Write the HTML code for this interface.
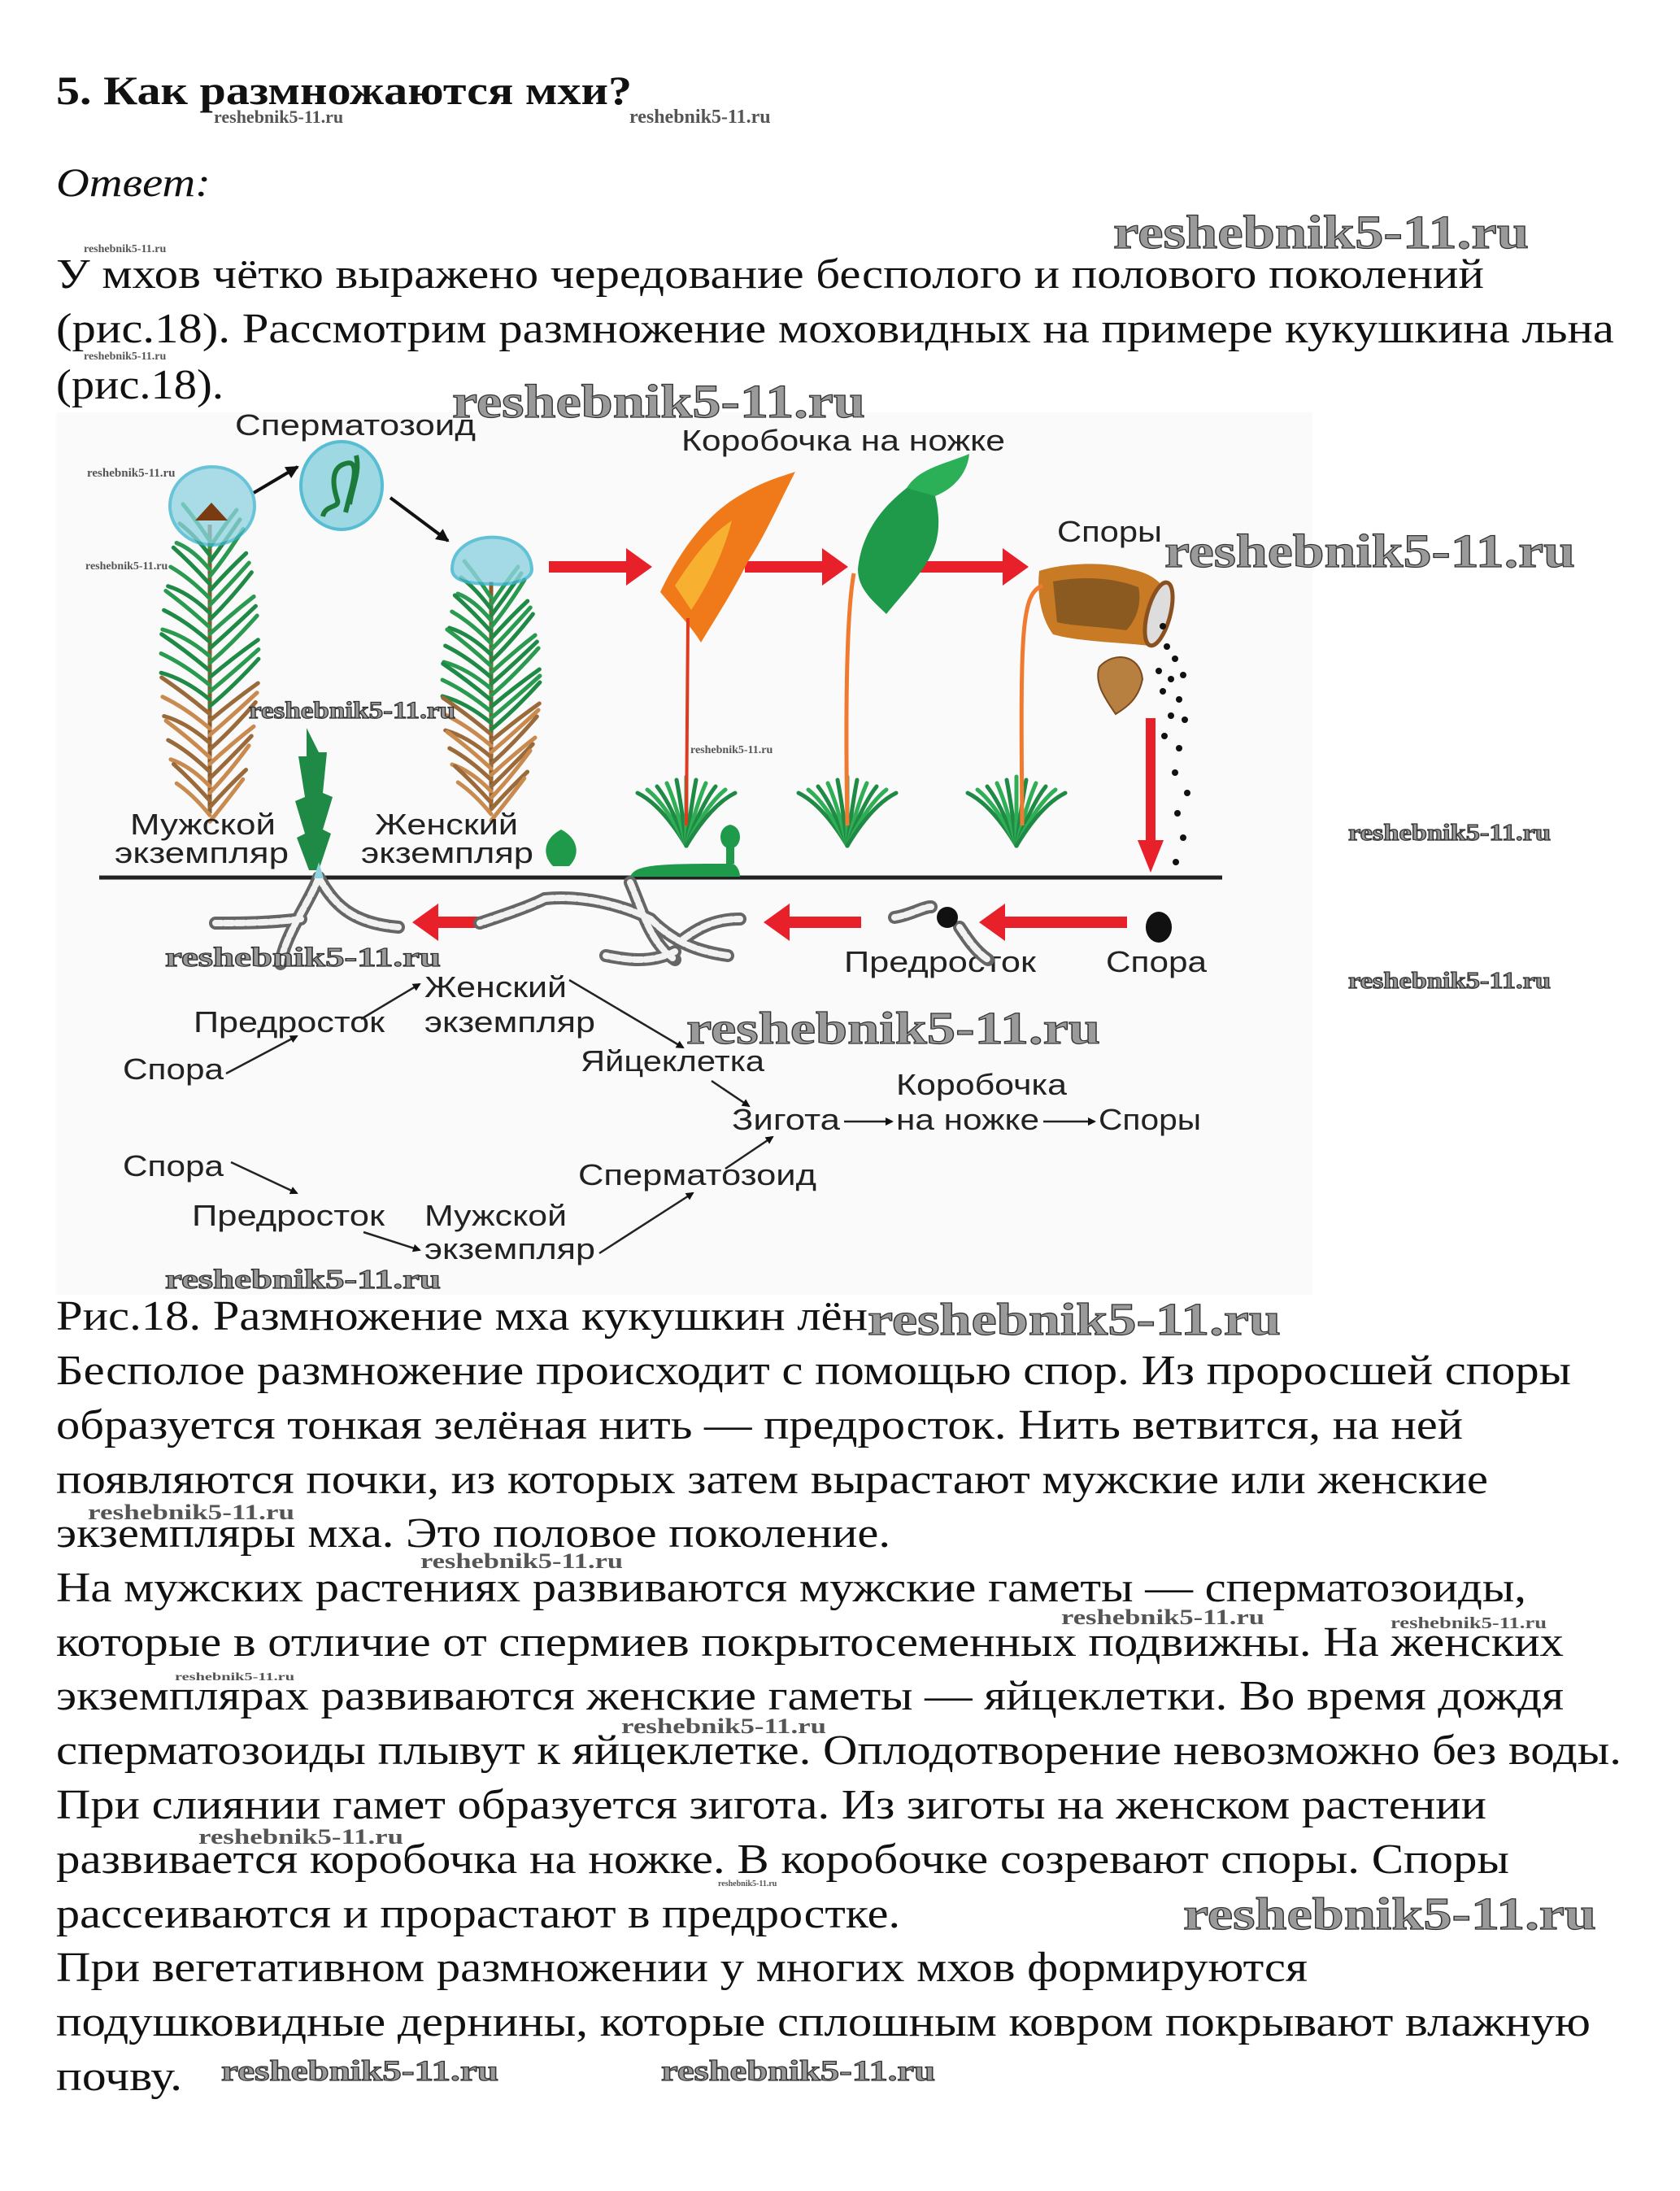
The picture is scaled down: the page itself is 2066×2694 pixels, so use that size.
<!DOCTYPE html>
<html><head><meta charset="utf-8">
<style>
html,body{margin:0;padding:0;background:#fff;}
svg{display:block;}
.b{font-family:"Liberation Serif",serif;font-size:52px;fill:#111;}
.a{font-family:"Liberation Sans",sans-serif;font-size:36px;fill:#222;}
.w{font-family:"Liberation Serif",serif;font-weight:bold;fill:#9a9a9a;stroke:#333;stroke-width:1.2;}
.ws{font-family:"Liberation Serif",serif;font-weight:bold;fill:#555;}
</style></head>
<body>
<svg id="s" width="2066" height="2694" viewBox="0 0 2066 2694" xmlns="http://www.w3.org/2000/svg">
<defs>
<marker id="ah" markerWidth="10" markerHeight="10" refX="8" refY="5" orient="auto" markerUnits="userSpaceOnUse"><path d="M0,0 L10,5 L0,10 Z" fill="#111"/></marker>
<marker id="ah2" markerWidth="16" markerHeight="16" refX="14" refY="8" orient="auto" markerUnits="userSpaceOnUse"><path d="M0,0 L16,8 L0,16 Z" fill="#111"/></marker>
</defs>
<rect x="69" y="507" width="1545" height="1085" fill="#fafafa"/>

<text x="69" y="128" font-family="Liberation Serif" font-weight="bold" font-size="50" fill="#111" textLength="708" lengthAdjust="spacingAndGlyphs">5. Как размножаются мхи?</text>
<text x="69" y="241" font-family="Liberation Serif" font-style="italic" font-size="50" fill="#111" textLength="190" lengthAdjust="spacingAndGlyphs">Ответ:</text>
<text class="b" x="69" y="354" textLength="1756" lengthAdjust="spacingAndGlyphs">У мхов чётко выражено чередование бесполого и полового поколений</text>
<text class="b" x="69" y="421" textLength="1916" lengthAdjust="spacingAndGlyphs">(рис.18). Рассмотрим размножение моховидных на примере кукушкина льна</text>
<text class="b" x="69" y="490" textLength="206" lengthAdjust="spacingAndGlyphs">(рис.18).</text>

<g id="plants"></g>

<text class="a" x="289" y="535" textLength="296" lengthAdjust="spacingAndGlyphs">Сперматозоид</text>
<text class="a" x="838" y="554" textLength="398" lengthAdjust="spacingAndGlyphs">Коробочка на ножке</text>
<text class="a" x="1300" y="666" textLength="129" lengthAdjust="spacingAndGlyphs">Споры</text>
<text class="a" x="160" y="1026" textLength="179" lengthAdjust="spacingAndGlyphs">Мужской</text>
<text class="a" x="141" y="1061" textLength="214" lengthAdjust="spacingAndGlyphs">экземпляр</text>
<text class="a" x="461" y="1026" textLength="176" lengthAdjust="spacingAndGlyphs">Женский</text>
<text class="a" x="444" y="1061" textLength="212" lengthAdjust="spacingAndGlyphs">экземпляр</text>
<text class="a" x="1038" y="1195" textLength="236" lengthAdjust="spacingAndGlyphs">Предросток</text>
<text class="a" x="1360" y="1195" textLength="124" lengthAdjust="spacingAndGlyphs">Спора</text>

<text class="a" x="522" y="1226" textLength="175" lengthAdjust="spacingAndGlyphs">Женский</text>
<text class="a" x="522" y="1269" textLength="210" lengthAdjust="spacingAndGlyphs">экземпляр</text>
<text class="a" x="238" y="1269" textLength="235" lengthAdjust="spacingAndGlyphs">Предросток</text>
<text class="a" x="151" y="1327" textLength="124" lengthAdjust="spacingAndGlyphs">Спора</text>
<text class="a" x="714" y="1317" textLength="226" lengthAdjust="spacingAndGlyphs">Яйцеклетка</text>
<text class="a" x="1102" y="1346" textLength="210" lengthAdjust="spacingAndGlyphs">Коробочка</text>
<text class="a" x="900" y="1389" textLength="133" lengthAdjust="spacingAndGlyphs">Зигота</text>
<text class="a" x="1102" y="1389" textLength="176" lengthAdjust="spacingAndGlyphs">на ножке</text>
<text class="a" x="1351" y="1389" textLength="126" lengthAdjust="spacingAndGlyphs">Споры</text>
<text class="a" x="151" y="1446" textLength="124" lengthAdjust="spacingAndGlyphs">Спора</text>
<text class="a" x="711" y="1457" textLength="293" lengthAdjust="spacingAndGlyphs">Сперматозоид</text>
<text class="a" x="236" y="1507" textLength="237" lengthAdjust="spacingAndGlyphs">Предросток</text>
<text class="a" x="522" y="1507" textLength="175" lengthAdjust="spacingAndGlyphs">Мужской</text>
<text class="a" x="522" y="1548" textLength="210" lengthAdjust="spacingAndGlyphs">экземпляр</text>

<g stroke="#222" stroke-width="2.5" fill="none" marker-end="url(#ah)">
<line x1="278" y1="1320" x2="365" y2="1274"/>
<line x1="444" y1="1253" x2="516" y2="1210"/>
<line x1="700" y1="1205" x2="840" y2="1288"/>
<line x1="875" y1="1329" x2="921" y2="1360"/>
<line x1="1038" y1="1379" x2="1097" y2="1379"/>
<line x1="1283" y1="1379" x2="1346" y2="1379"/>
<line x1="284" y1="1429" x2="365" y2="1467"/>
<line x1="447" y1="1515" x2="516" y2="1537"/>
<line x1="737" y1="1541" x2="852" y2="1467"/>
<line x1="892" y1="1437" x2="950" y2="1398"/>
</g>

<line x1="122" y1="1079" x2="1503" y2="1079" stroke="#222" stroke-width="5"/>

<g fill="#e8202a">
<path d="M675,690 h95 v-16 l32,23 l-32,23 v-16 h-95z"/>
<path d="M916,690 h95 v-16 l32,23 l-32,23 v-16 h-95z"/>
<path d="M1128,690 h105 v-16 l32,23 l-32,23 v-16 h-105z"/>
<path d="M1409,883 h12 v150 h10 l-16,40 l-16,-40 h10z"/>
<path d="M599,1127 h-60 v-16 l-32,23 l32,23 v-16 h60z"/>
<path d="M1059,1127 h-88 v-16 l-32,23 l32,23 v-16 h88z"/>
<path d="M1386,1127 h-150 v-16 l-32,23 l32,23 v-16 h150z"/>
</g>
<g stroke="#111" stroke-width="4" marker-end="url(#ah2)">
<line x1="312" y1="606" x2="366" y2="574"/>
<line x1="480" y1="612" x2="551" y2="665"/>
</g>

<ellipse cx="261" cy="622" rx="52" ry="48" fill="#8fd3e0" opacity="0.75" stroke="#3bb3cc" stroke-width="4"/>
<path d="M240,640 l20,-22 l20,22 z" fill="#7a3b12"/>
<ellipse cx="420" cy="597" rx="50" ry="54" fill="#8fd3e0" opacity="0.85" stroke="#3bb3cc" stroke-width="4"/>
<path d="M425,570 c-20,5 -15,30 -10,45 c3,10 -15,5 -18,20 M425,570 c15,-5 12,15 5,40 l-5,20 M438,560 c5,20 -5,40 -8,60" stroke="#1c7a3a" stroke-width="6" fill="none"/>
<path d="M556,700 c0,-50 95,-55 98,0 c0,15 -30,20 -50,18 c-20,0 -48,-2 -48,-18z" fill="#8fd3e0" opacity="0.8" stroke="#3bb3cc" stroke-width="4"/>

<path d="M812,728 C830,690 860,640 905,612 C940,590 965,585 978,580 C960,615 940,660 920,690 C900,730 880,760 862,790 C850,770 830,750 812,728z" fill="#f07a1a"/>
<path d="M830,720 C850,690 870,660 900,640 C890,680 870,720 850,750z" fill="#f8b030"/>
<line x1="846" y1="760" x2="844" y2="1015" stroke="#e03a20" stroke-width="4"/>
<path d="M1055,700 C1060,650 1090,620 1115,600 L1140,585 C1150,600 1160,640 1150,670 C1140,700 1110,730 1090,755 C1075,740 1055,725 1055,700z" fill="#1f9a4a"/>
<path d="M1115,600 C1130,575 1165,570 1192,558 C1190,580 1175,600 1150,610z" fill="#2bb058"/>
<path d="M1050,705 C1040,760 1040,900 1042,1015" stroke="#f07a30" stroke-width="5" fill="none"/>
<path d="M1278,702 C1310,692 1360,690 1390,700 C1420,705 1430,720 1436,730 C1440,760 1430,785 1420,795 C1390,790 1330,790 1295,780 C1280,760 1275,730 1278,702z" fill="#c97a25"/>
<path d="M1295,715 C1330,708 1370,710 1400,722 C1405,745 1395,765 1385,775 C1350,770 1320,770 1300,765z" fill="#8a5a20"/>
<ellipse cx="1425" cy="755" rx="14" ry="40" fill="#ddd" stroke="#8a5020" stroke-width="5" transform="rotate(15 1425 755)"/>
<path d="M1282,720 C1255,730 1255,780 1257,1015" stroke="#f07a30" stroke-width="5" fill="none"/>
<path d="M1352,820 C1370,800 1402,805 1405,835 C1400,860 1385,870 1372,878 C1360,860 1345,840 1352,820z" fill="#b88040" stroke="#7a4a20" stroke-width="2"/>
<g fill="#111" id="spores"></g>

<g fill="none" stroke="#666" stroke-width="16" stroke-linecap="round">
<path d="M392,1079 C380,1110 350,1150 345,1185"/>
<path d="M392,1079 C410,1110 430,1135 490,1140"/>
<path d="M370,1130 C330,1135 300,1135 265,1135"/>
<path d="M670,1105 C650,1115 620,1125 590,1135"/>
<path d="M670,1105 C720,1100 770,1115 800,1130"/>
<path d="M775,1085 C790,1120 800,1160 830,1180"/>
<path d="M800,1130 C830,1160 860,1170 895,1175"/>
<path d="M830,1170 C800,1185 770,1180 745,1175"/>
<path d="M840,1155 C860,1140 880,1130 910,1130"/>
<path d="M1100,1128 C1120,1125 1135,1115 1145,1115"/>
<path d="M1180,1140 C1190,1155 1200,1170 1215,1180"/>
</g>
<g fill="none" stroke="#f2f2f2" stroke-width="8" stroke-dasharray="10 4" stroke-linecap="round">
<path d="M392,1079 C380,1110 350,1150 345,1185"/>
<path d="M392,1079 C410,1110 430,1135 490,1140"/>
<path d="M370,1130 C330,1135 300,1135 265,1135"/>
<path d="M670,1105 C650,1115 620,1125 590,1135"/>
<path d="M670,1105 C720,1100 770,1115 800,1130"/>
<path d="M775,1085 C790,1120 800,1160 830,1180"/>
<path d="M800,1130 C830,1160 860,1170 895,1175"/>
<path d="M830,1170 C800,1185 770,1180 745,1175"/>
<path d="M840,1155 C860,1140 880,1130 910,1130"/>
<path d="M1100,1128 C1120,1125 1135,1115 1145,1115"/>
<path d="M1180,1140 C1190,1155 1200,1170 1215,1180"/>
</g>
<circle cx="1165" cy="1128" r="13" fill="#111"/>
<ellipse cx="1425" cy="1140" rx="16" ry="19" fill="#111"/>
<path d="M775,1078 C780,1065 800,1062 880,1062 L900,1062 C905,1062 910,1070 910,1078z" fill="#1f9a4a"/>
<path d="M893,1062 v-20 c-10,-5 -10,-25 5,-28 c15,3 15,23 5,28 v20z" fill="#1f9a4a"/>
<path d="M680,1065 c-15,-15 -10,-35 10,-45 c20,10 25,30 10,45z" fill="#1f9a4a"/>
<path d="M380,1070 l-15,-40 l10,-5 l-12,-40 l12,-5 l-8,-50 l10,0 l0,-35 l15,30 l10,0 l-5,50 l12,5 l-12,40 l10,5 l-15,45z" fill="#1f8a45"/>
<path d="M386,1080 l6,-20 l6,20z" fill="#8fd3e0"/>

<text class="ws" x="263" y="151" font-size="22">reshebnik5-11.ru</text>
<text class="ws" x="774" y="151" font-size="24">reshebnik5-11.ru</text>
<text class="ws" x="103" y="310" font-size="14">reshebnik5-11.ru</text>
<text class="ws" x="103" y="442" font-size="14">reshebnik5-11.ru</text>
<text class="ws" x="107" y="586" font-size="15">reshebnik5-11.ru</text>
<text class="ws" x="105" y="700" font-size="14">reshebnik5-11.ru</text>
<text class="ws" x="849" y="926" font-size="14">reshebnik5-11.ru</text>
<text class="w" x="1369" y="305" font-size="58" textLength="511" lengthAdjust="spacingAndGlyphs">reshebnik5-11.ru</text>
<text class="w" x="556" y="513" font-size="58" textLength="508" lengthAdjust="spacingAndGlyphs">reshebnik5-11.ru</text>
<text class="w" x="1432" y="697" font-size="58" textLength="505" lengthAdjust="spacingAndGlyphs">reshebnik5-11.ru</text>
<text class="w" x="306" y="883" font-size="30" textLength="254" lengthAdjust="spacingAndGlyphs">reshebnik5-11.ru</text>
<text class="w" x="1658" y="1033" font-size="28" textLength="249" lengthAdjust="spacingAndGlyphs">reshebnik5-11.ru</text>
<text class="w" x="1658" y="1215" font-size="28" textLength="249" lengthAdjust="spacingAndGlyphs">reshebnik5-11.ru</text>
<text class="w" x="203" y="1188" font-size="34" textLength="339" lengthAdjust="spacingAndGlyphs">reshebnik5-11.ru</text>
<text class="w" x="844" y="1283" font-size="56" textLength="509" lengthAdjust="spacingAndGlyphs">reshebnik5-11.ru</text>
<text class="w" x="203" y="1584" font-size="34" textLength="339" lengthAdjust="spacingAndGlyphs">reshebnik5-11.ru</text>

<text class="b" x="69" y="1635" textLength="998" lengthAdjust="spacingAndGlyphs">Рис.18. Размножение мха кукушкин лён</text>
<text class="w" x="1067" y="1641" font-size="56" textLength="508" lengthAdjust="spacingAndGlyphs">reshebnik5-11.ru</text>
<text class="b" x="69" y="1702" textLength="1863" lengthAdjust="spacingAndGlyphs">Бесполое размножение происходит с помощью спор. Из проросшей споры</text>
<text class="b" x="69" y="1769" textLength="1730" lengthAdjust="spacingAndGlyphs">образуется тонкая зелёная нить — предросток. Нить ветвится, на ней</text>
<text class="b" x="69" y="1836" textLength="1761" lengthAdjust="spacingAndGlyphs">появляются почки, из которых затем вырастают мужские или женские</text>
<text class="b" x="69" y="1902" textLength="1026" lengthAdjust="spacingAndGlyphs">экземпляры мха. Это половое поколение.</text>
<text class="b" x="69" y="1969" textLength="1808" lengthAdjust="spacingAndGlyphs">На мужских растениях развиваются мужские гаметы — сперматозоиды,</text>
<text class="b" x="69" y="2036" textLength="1854" lengthAdjust="spacingAndGlyphs">которые в отличие от спермиев покрытосеменных подвижны. На женских</text>
<text class="b" x="69" y="2102" textLength="1854" lengthAdjust="spacingAndGlyphs">экземплярах развиваются женские гаметы — яйцеклетки. Во время дождя</text>
<text class="b" x="69" y="2169" textLength="1925" lengthAdjust="spacingAndGlyphs">сперматозоиды плывут к яйцеклетке. Оплодотворение невозможно без воды.</text>
<text class="b" x="69" y="2236" textLength="1759" lengthAdjust="spacingAndGlyphs">При слиянии гамет образуется зигота. Из зиготы на женском растении</text>
<text class="b" x="69" y="2303" textLength="1787" lengthAdjust="spacingAndGlyphs">развивается коробочка на ножке. В коробочке созревают споры. Споры</text>
<text class="b" x="69" y="2370" textLength="1038" lengthAdjust="spacingAndGlyphs">рассеиваются и прорастают в предростке.</text>
<text class="b" x="69" y="2436" textLength="1539" lengthAdjust="spacingAndGlyphs">При вегетативном размножении у многих мхов формируются</text>
<text class="b" x="69" y="2503" textLength="1887" lengthAdjust="spacingAndGlyphs">подушковидные дернины, которые сплошным ковром покрывают влажную</text>
<text class="b" x="69" y="2570" textLength="155" lengthAdjust="spacingAndGlyphs">почву.</text>

<text class="ws" x="108" y="1868" font-size="26" textLength="254" lengthAdjust="spacingAndGlyphs">reshebnik5-11.ru</text>
<text class="ws" x="517" y="1928" font-size="26" textLength="249" lengthAdjust="spacingAndGlyphs">reshebnik5-11.ru</text>
<text class="ws" x="1305" y="1997" font-size="26" textLength="250" lengthAdjust="spacingAndGlyphs">reshebnik5-11.ru</text>
<text class="ws" x="1710" y="2002" font-size="20" textLength="192" lengthAdjust="spacingAndGlyphs">reshebnik5-11.ru</text>
<text class="ws" x="215" y="2066" font-size="14" textLength="147" lengthAdjust="spacingAndGlyphs">reshebnik5-11.ru</text>
<text class="ws" x="764" y="2131" font-size="26" textLength="252" lengthAdjust="spacingAndGlyphs">reshebnik5-11.ru</text>
<text class="ws" x="244" y="2267" font-size="26" textLength="252" lengthAdjust="spacingAndGlyphs">reshebnik5-11.ru</text>
<text class="ws" x="883" y="2319" font-size="10">reshebnik5-11.ru</text>
<text class="w" x="1455" y="2372" font-size="56" textLength="508" lengthAdjust="spacingAndGlyphs">reshebnik5-11.ru</text>
<text class="w" x="272" y="2558" font-size="36" textLength="341" lengthAdjust="spacingAndGlyphs">reshebnik5-11.ru</text>
<text class="w" x="813" y="2558" font-size="36" textLength="337" lengthAdjust="spacingAndGlyphs">reshebnik5-11.ru</text>
</svg>
<script>
(function(){
var NS="http://www.w3.org/2000/svg",g=document.getElementById("plants");
function el(t,a){var e=document.createElementNS(NS,t);for(var k in a)e.setAttribute(k,a[k]);g.appendChild(e);return e;}
function moss(x,y0,y1,w){
 el("line",{x1:x,y1:y0,x2:x,y2:y1,stroke:"#8a5a2a","stroke-width":5});
 var n=20;
 for(var i=0;i<n;i++){
  var y=y0+(y1-y0)*i/n; var f=i/n;
  var col = f<0.6?(i%2?"#1f8a45":"#2a9a50"):(i%2?"#c98a50":"#9a6a3a");
  var ww=w*(0.55+0.45*Math.sin(f*3));
  el("path",{d:"M"+x+","+(y+20)+" Q"+(x-ww*0.5)+","+(y-5)+" "+(x-ww)+","+(y-25+(i%3)*6),stroke:col,"stroke-width":5,fill:"none","stroke-linecap":"round"});
  el("path",{d:"M"+x+","+(y+28)+" Q"+(x+ww*0.5)+","+(y+3)+" "+(x+ww)+","+(y-18-(i%3)*6),stroke:col,"stroke-width":5,fill:"none","stroke-linecap":"round"});
 }
}
moss(258,645,1000,60);
moss(604,715,995,60);
function tuft(x,y){
 for(var i=-5;i<=5;i++){
  el("path",{d:"M"+x+","+y+" Q"+(x+i*6)+","+(y-50)+" "+(x+i*12)+","+(y-85+Math.abs(i)*4),stroke:i%2?"#1f8a45":"#2fae55","stroke-width":5,fill:"none","stroke-linecap":"round"});
 }
}
tuft(844,1040);tuft(1042,1040);tuft(1250,1040);
var sp=document.getElementById("spores");
var pts=[[1430,770],[1435,795],[1445,810],[1425,825],[1440,835],[1455,830],[1430,850],[1450,860],[1440,880],[1457,885],[1432,905],[1450,920],[1445,950],[1460,975],[1448,1000],[1455,1030],[1446,1060]];
pts.forEach(function(p){var c=document.createElementNS(NS,"circle");c.setAttribute("cx",p[0]);c.setAttribute("cy",p[1]);c.setAttribute("r",4);sp.appendChild(c);});
})();
</script>
</body></html>
